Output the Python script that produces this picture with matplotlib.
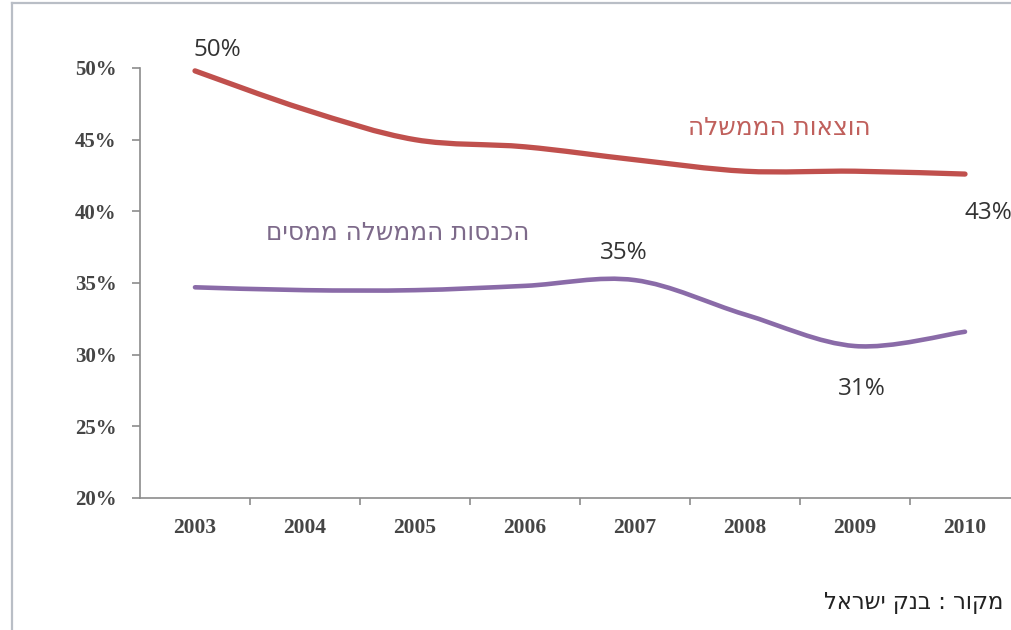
import matplotlib
matplotlib.use("Agg")
import matplotlib.pyplot as plt
from matplotlib.path import Path
from matplotlib.patches import PathPatch
from matplotlib.lines import Line2D
from matplotlib.ticker import FixedLocator, PercentFormatter

# Government expenditure and tax revenue as a share of GDP (%)
years = ["2003", "2004", "2005", "2006", "2007", "2008", "2009", "2010"]
expenditure = [49.8, 47.1, 45.0, 44.5, 43.6, 42.8, 42.8, 42.6]
tax_revenue = [34.7, 34.5, 34.5, 34.8, 35.2, 32.8, 30.6, 31.6]
y_ticks = [20, 25, 30, 35, 40, 45, 50]

expenditure_label = "הוצאות הממשלה"
revenue_label = "הכנסות הממשלה ממסים"
source_label = "מקור : בנק ישראל"

RED = "#c0504d"
PURPLE = "#8a6ba8"
AXIS_GREY = "#8c8c8c"
TICK_TEXT = "#454545"


def rtl(text):
    # matplotlib lays glyphs out left to right; flip Hebrew for display
    return text[::-1]


def smooth_path(xs, ys, tension=0.5):
    # Excel-style smoothed line: Catmull-Rom segments as cubic Beziers
    n = len(xs)
    verts = [(xs[0], ys[0])]
    codes = [Path.MOVETO]
    for i in range(n - 1):
        x0, y0 = (xs[i - 1], ys[i - 1]) if i > 0 else (xs[i], ys[i])
        x1, y1 = xs[i], ys[i]
        x2, y2 = xs[i + 1], ys[i + 1]
        x3, y3 = (xs[i + 2], ys[i + 2]) if i + 2 < n else (x2, y2)
        c1 = (x1 + (x2 - x0) * tension / 3, y1 + (y2 - y0) * tension / 3)
        c2 = (x2 - (x3 - x1) * tension / 3, y2 - (y3 - y1) * tension / 3)
        verts += [c1, c2, (x2, y2)]
        codes += [Path.CURVE4] * 3
    return Path(verts, codes)


W, H = 1012, 630
fig = plt.figure(figsize=(W / 100, H / 100), dpi=100)
fig.patch.set_facecolor("white")

# light frame around the chart area
fig.add_artist(Line2D([12 / W, 12 / W], [0, 1 - 3 / H], transform=fig.transFigure,
                      color="#b9bec6", lw=1.6))
fig.add_artist(Line2D([12 / W, 1], [1 - 3 / H, 1 - 3 / H], transform=fig.transFigure,
                      color="#b9bec6", lw=1.6))

left, right = 140, 1020
bottom, top = 498, 68
ax = fig.add_axes([left / W, 1 - bottom / H, (right - left) / W, (bottom - top) / H])
ax.set_facecolor("none")
ax.set_xlim(-0.5, len(years) - 0.5)
ax.set_ylim(20, 50)

x = list(range(len(years)))
ax.add_patch(PathPatch(smooth_path(x, expenditure), facecolor="none",
                       edgecolor=RED, lw=3.8, capstyle="round", clip_on=False))
ax.add_patch(PathPatch(smooth_path(x, tax_revenue), facecolor="none",
                       edgecolor=PURPLE, lw=3.3, capstyle="round", clip_on=False))

for s in ("top", "right"):
    ax.spines[s].set_visible(False)
for s in ("left", "bottom"):
    ax.spines[s].set_color(AXIS_GREY)
    ax.spines[s].set_linewidth(1.2)

ax.yaxis.set_major_locator(FixedLocator(y_ticks))
ax.yaxis.set_major_formatter(PercentFormatter(decimals=0))
ax.tick_params(axis="y", length=6, width=1.2, color=AXIS_GREY, pad=11,
               labelsize=15, labelcolor=TICK_TEXT)
for lbl in ax.get_yticklabels():
    lbl.set_family("Liberation Serif")
    lbl.set_fontweight("bold")

ax.set_xticks([i + 0.5 for i in range(len(years) - 1)])
ax.set_xticklabels([])
ax.tick_params(axis="x", length=5, width=1.2, color=AXIS_GREY)
for i, yr in enumerate(years):
    ax.text(i, 17.9, yr, ha="center", va="center", fontsize=15.5, fontweight="bold",
            color=TICK_TEXT, family="Liberation Serif", clip_on=False)

# value callouts
label_font = dict(family="Open Sans", fontsize=17.5, color="#333333", va="center",
                  clip_on=False)
ax.text(0.2, 51.25, f"{round(expenditure[0])}%", ha="center", **label_font)
ax.text(7.0, 39.9, f"{round(expenditure[7])}%", ha="left", **label_font)
ax.text(3.9, 37.1, f"{round(tax_revenue[4])}%", ha="center", **label_font)
ax.text(6.06, 27.6, f"{round(tax_revenue[6])}%", ha="center", **label_font)

# series names
ax.text(5.31, 45.8, rtl(expenditure_label), family="DejaVu Sans", fontsize=17.8,
        color="#c0605c", ha="center", va="center")
ax.text(1.84, 38.5, rtl(revenue_label), family="DejaVu Sans", fontsize=17.8,
        color="#7d6a8a", ha="center", va="center")

fig.text(1003 / W, 1 - 603 / H, rtl(source_label), family="DejaVu Sans", fontsize=16.3,
         color="#222222", ha="right", va="center")

fig.savefig("out.png", dpi=100)
